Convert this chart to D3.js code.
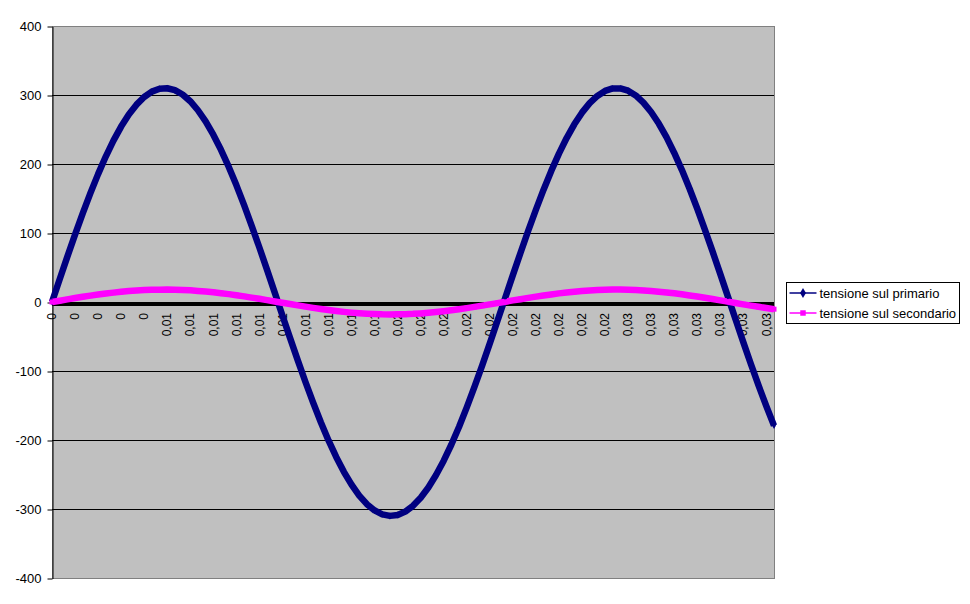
<!DOCTYPE html>
<html>
<head>
<meta charset="utf-8">
<script src="https://cdn.jsdelivr.net/npm/d3@7"></script>
<style>
  body { margin: 0; background: #fff; }
  svg { display: block; font-family: "Liberation Sans", Arial, sans-serif; }
</style>
</head>
<body>
<script>
// time (s) of each sample
var times = [
  0, 0.00034, 0.00068, 0.00102, 0.00136, 0.0017, 0.00204, 0.00238, 0.00272, 0.00306,
  0.0034, 0.00374, 0.00408, 0.00442, 0.00476, 0.0051, 0.00544, 0.00578, 0.00612, 0.00646,
  0.0068, 0.00714, 0.00748, 0.00782, 0.00816, 0.0085, 0.00884, 0.00918, 0.00952, 0.00986,
  0.0102, 0.01054, 0.01088, 0.01122, 0.01156, 0.0119, 0.01224, 0.01258, 0.01292, 0.01326,
  0.0136, 0.01394, 0.01428, 0.01462, 0.01496, 0.0153, 0.01564, 0.01598, 0.01632, 0.01666,
  0.017, 0.01734, 0.01768, 0.01802, 0.01836, 0.0187, 0.01904, 0.01938, 0.01972, 0.02006,
  0.0204, 0.02074, 0.02108, 0.02142, 0.02176, 0.0221, 0.02244, 0.02278, 0.02312, 0.02346,
  0.0238, 0.02414, 0.02448, 0.02482, 0.02516, 0.0255, 0.02584, 0.02618, 0.02652, 0.02686,
  0.0272, 0.02754, 0.02788, 0.02822, 0.02856, 0.0289, 0.02924, 0.02958, 0.02992, 0.03026,
  0.0306, 0.03094, 0.03128, 0.03162, 0.03196
];

// tensione sul primario (V)
var primario = [
  0, 33.0, 65.7, 97.6, 128.5, 157.8, 185.3, 210.8, 233.8, 254.2,
  271.7, 286.0, 297.1, 304.9, 309.1, 309.8, 307.0, 300.7, 291.0, 277.9,
  261.7, 242.5, 220.6, 196.1, 169.4, 140.7, 110.5, 79.0, 46.6, 13.6,
  -19.5, -52.3, -84.6, -115.9, -145.9, -174.2, -200.6, -224.6, -246.1, -264.8,
  -280.5, -293.0, -302.1, -307.8, -310.0, -308.6, -303.8, -295.4, -283.7, -268.8,
  -250.8, -230.0, -206.5, -180.7, -152.7, -123.1, -92.1, -60.0, -27.2, 5.8,
  38.9, 71.4, 103.2, 133.7, 162.8, 190.0, 215.0, 237.6, 257.5, 274.4,
  288.2, 298.7, 305.9, 309.5, 309.6, 306.2, 299.3, 288.9, 275.3, 258.6,
  238.9, 216.4, 191.6, 164.5, 135.5, 105.0, 73.3, 40.8, 7.8, -25.3,
  -58.1, -90.2, -121.3, -151.0, -179.1
];

// tensione sul secondario (V)
var secondario = [
  0, 1.9, 3.8, 5.7, 7.5, 9.2, 10.8, 12.2, 13.6, 14.8,
  15.8, 16.6, 17.3, 17.7, 17.9, 18.0, 17.8, 17.5, 16.9, 16.1,
  15.2, 14.1, 12.8, 11.4, 9.8, 8.2, 6.4, 4.6, 2.7, 0.8,
  -1.1, -3.0, -4.9, -6.7, -8.5, -10.1, -11.6, -13.0, -14.3, -15.4,
  -16.3, -17.0, -17.5, -17.9, -18.0, -17.9, -17.6, -17.2, -16.5, -15.6,
  -14.6, -13.4, -12.0, -10.5, -8.9, -7.1, -5.3, -3.5, -1.6, 0.3,
  2.3, 4.1, 6.0, 7.8, 9.5, 11.0, 12.5, 13.8, 14.9, 15.9,
  16.7, 17.3, 17.8, 18.0, 18.0, 17.8, 17.4, 16.8, 16.0, 15.0,
  13.9, 12.6, 11.1, 9.5, 7.9, 6.1, 4.3, 2.4, 0.5, -1.5,
  -3.4, -5.2, -7.0, -8.8, -10.4
];

// category labels, one every 3 samples
var xLabels = [
  "0", "0", "0", "0", "0",
  "0,01", "0,01", "0,01", "0,01", "0,01", "0,01", "0,01", "0,01", "0,01", "0,01",
  "0,02", "0,02", "0,02", "0,02", "0,02", "0,02", "0,02", "0,02", "0,02", "0,02",
  "0,03", "0,03", "0,03", "0,03", "0,03", "0,03", "0,03"
];
var yTicks = [-400, -300, -200, -100, 0, 100, 200, 300, 400];

var seriesNames = ["tensione sul primario", "tensione sul secondario"];
var seriesColors = ["#000080", "#ff00ff"];

var W = 970, H = 604;
var m = { left: 52, right: 774, top: 26, bottom: 578 };

var svg = d3.select("body").append("svg")
  .attr("width", W)
  .attr("height", H);

var x = d3.scalePoint()
  .domain(d3.range(times.length))
  .range([m.left, m.right]);

var y = d3.scaleLinear()
  .domain([-400, 400])
  .range([m.bottom, m.top]);

// plot area
svg.append("rect")
  .attr("x", m.left + 0.5).attr("y", m.top + 0.5)
  .attr("width", m.right - m.left).attr("height", m.bottom - m.top)
  .attr("fill", "#c0c0c0")
  .attr("stroke", "#808080");

// gridlines
svg.append("g").selectAll("line")
  .data(yTicks.filter(function (d) { return d > -400 && d < 400 && d !== 0; }))
  .enter().append("line")
  .attr("x1", m.left).attr("x2", m.right)
  .attr("y1", function (d) { return Math.round(y(d)) + 0.5; })
  .attr("y2", function (d) { return Math.round(y(d)) + 0.5; })
  .attr("stroke", "#000");

// y axis
var yAxis = d3.axisLeft(y)
  .tickValues(yTicks)
  .tickSize(5)
  .tickSizeOuter(0)
  .tickPadding(6)
  .tickFormat(function (d) { return String(d); });

var gy = svg.append("g")
  .attr("transform", "translate(" + (m.left + 0.5) + ",0.5)")
  .call(yAxis);
gy.select(".domain").attr("stroke", "#000");
gy.selectAll("line").attr("stroke", "#000");
gy.selectAll("text").attr("font-size", 13).attr("fill", "#000")
  .attr("font-family", "Liberation Sans, Arial, sans-serif");

// category axis at zero (thick)
svg.append("line")
  .attr("x1", m.left).attr("x2", m.right)
  .attr("y1", y(0) + 2).attr("y2", y(0) + 2)
  .attr("stroke", "#000")
  .attr("stroke-width", 4);

// category labels
svg.append("g").selectAll("text")
  .data(xLabels)
  .enter().append("text")
  .attr("transform", function (d, i) {
    return "translate(" + x(i * 3) + "," + (y(0) + 11) + ") rotate(-90)";
  })
  .attr("text-anchor", "end")
  .attr("dy", "0.35em")
  .attr("font-size", 12)
  .text(function (d) { return d; });

// series
var line = d3.line()
  .x(function (d, i) { return x(i); })
  .y(function (d) { return y(d); });

var data = [primario, secondario];

svg.append("g").selectAll("path")
  .data(data)
  .enter().append("path")
  .attr("d", line)
  .attr("fill", "none")
  .attr("stroke", function (d, i) { return seriesColors[i]; })
  .attr("stroke-width", 6.5)
  .attr("stroke-linejoin", "round");

var diamond = d3.symbol().type(d3.symbolDiamond).size(14);
var square = d3.symbol().type(d3.symbolSquare).size(25);

svg.append("g").selectAll("path")
  .data(primario)
  .enter().append("path")
  .attr("d", diamond)
  .attr("transform", function (d, i) { return "translate(" + x(i) + "," + y(d) + ")"; })
  .attr("fill", seriesColors[0]);

svg.append("g").selectAll("path")
  .data(secondario)
  .enter().append("path")
  .attr("d", square)
  .attr("transform", function (d, i) { return "translate(" + x(i) + "," + y(d) + ")"; })
  .attr("fill", seriesColors[1]);

// legend
var lg = svg.append("g").attr("transform", "translate(786.5,282.5)");
lg.append("rect")
  .attr("width", 173).attr("height", 41)
  .attr("fill", "#fff").attr("stroke", "#000");

var items = lg.selectAll("g.item")
  .data(seriesNames)
  .enter().append("g")
  .attr("class", "item")
  .attr("transform", function (d, i) { return "translate(0," + (10.5 + i * 20) + ")"; });

items.append("line")
  .attr("x1", 3).attr("x2", 30)
  .attr("stroke", function (d, i) { return seriesColors[i]; })
  .attr("stroke-width", 1.5);

items.append("path")
  .attr("d", function (d, i) {
    return i === 0 ? d3.symbol().type(d3.symbolDiamond).size(30)()
                   : d3.symbol().type(d3.symbolSquare).size(30)();
  })
  .attr("transform", "translate(16.5,0)")
  .attr("fill", function (d, i) { return seriesColors[i]; });

items.append("text")
  .attr("x", 33)
  .attr("dy", "0.35em")
  .attr("font-size", 13)
  .text(function (d) { return d; });
</script>
</body>
</html>
